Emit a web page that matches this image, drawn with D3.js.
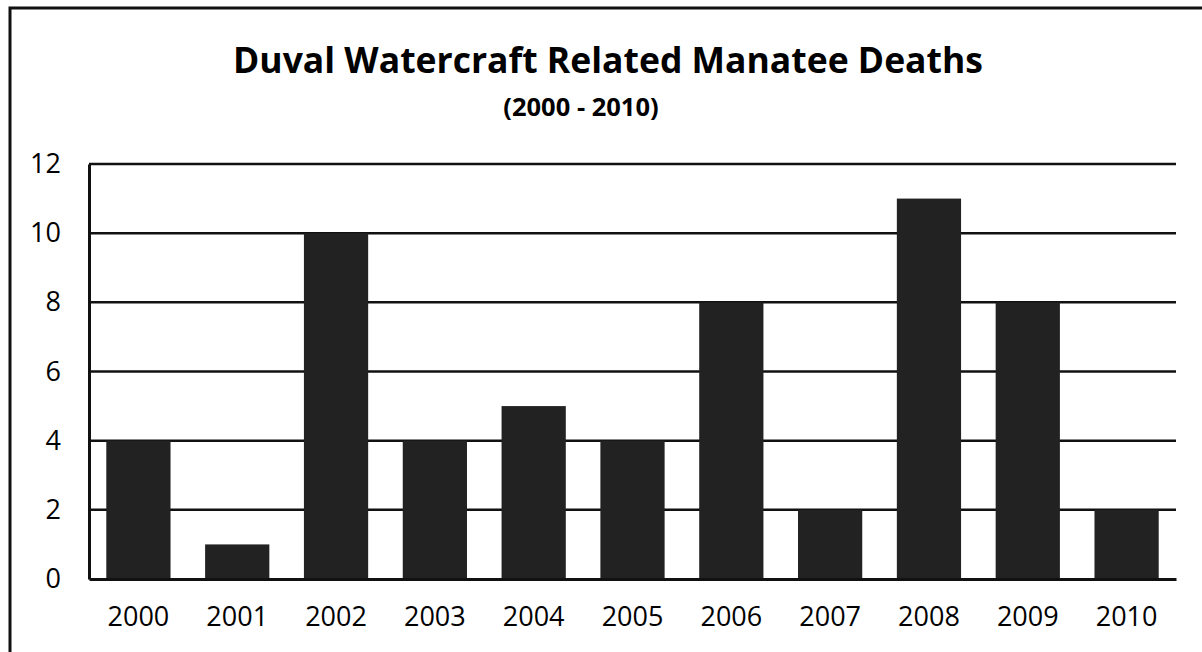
<!DOCTYPE html>
<html>
<head>
    <meta charset="utf-8" />
    <title>Duval Watercraft Related Manatee Deaths</title>
    <script src="https://cdn.jsdelivr.net/npm/d3@7"></script>
    <style>
        html, body { margin: 0; padding: 0; background: #fff; }
        text { font-family: "Open Sans", "Noto Sans", sans-serif; fill: #000; }
    </style>
</head>
<body>
<script>

    var width = 1202;
    var height = 652;

    // data
    var years = ["2000", "2001", "2002", "2003", "2004", "2005", "2006", "2007", "2008", "2009", "2010"];
    var deaths = [4, 1, 10, 4, 5, 4, 8, 2, 11, 8, 2];
    var yTicks = [0, 2, 4, 6, 8, 10, 12];

    var margin = {left: 89, right: 26, top: 164, bottom: 73};

    var svg = d3.select('body').append('svg').attr('width', width).attr('height', height);

    // outer frame (runs off the right/bottom of the scan)
    svg.append('rect')
        .attr('x', 10).attr('y', 8)
        .attr('width', width + 20).attr('height', height + 20)
        .attr('fill', 'none').attr('stroke', '#111').attr('stroke-width', 3);

    svg.append('text')
        .attr('x', 608).attr('y', 73)
        .attr('text-anchor', 'middle')
        .attr('font-weight', 'bold').attr('font-size', 35.5)
        .text('Duval Watercraft Related Manatee Deaths');

    svg.append('text')
        .attr('x', 581).attr('y', 116)
        .attr('text-anchor', 'middle')
        .attr('font-weight', 'bold').attr('font-size', 25.5)
        .text('(2000 - 2010)');

    var x = d3.scaleBand()
        .domain(years)
        .range([margin.left, width - margin.right])
        .paddingInner(0.35)
        .paddingOuter(0.175);

    var y = d3.scaleLinear()
        .domain([0, 12])
        .range([height - margin.bottom, margin.top]);

    // gridlines
    svg.append('g').selectAll('line').data(yTicks.slice(1)).enter().append('line')
        .attr('x1', margin.left).attr('x2', width - margin.right)
        .attr('y1', d => y(d)).attr('y2', d => y(d))
        .attr('stroke', '#111').attr('stroke-width', 2.5);

    // bars
    svg.append('g').selectAll('rect').data(deaths).enter().append('rect')
        .attr('x', (d, i) => x(years[i]))
        .attr('width', x.bandwidth())
        .attr('y', d => y(d))
        .attr('height', d => y(0) - y(d))
        .attr('fill', '#222');

    // y axis
    var yAxis = d3.axisLeft(y).tickValues(yTicks).tickSize(0).tickPadding(28);
    var gy = svg.append('g').attr('transform', 'translate(' + margin.left + ',0)').call(yAxis);
    gy.select('.domain').attr('stroke', '#111').attr('stroke-width', 3);
    gy.selectAll('text').attr('font-size', 27).attr('font-family', null);

    // x axis
    var xAxis = d3.axisBottom(x).tickSize(0).tickPadding(28);
    var gx = svg.append('g').attr('transform', 'translate(0,' + y(0) + ')').call(xAxis);
    gx.select('.domain').attr('stroke', '#111').attr('stroke-width', 3);
    gx.selectAll('text').attr('font-size', 27).attr('font-family', null);

</script>
</body>
</html>
